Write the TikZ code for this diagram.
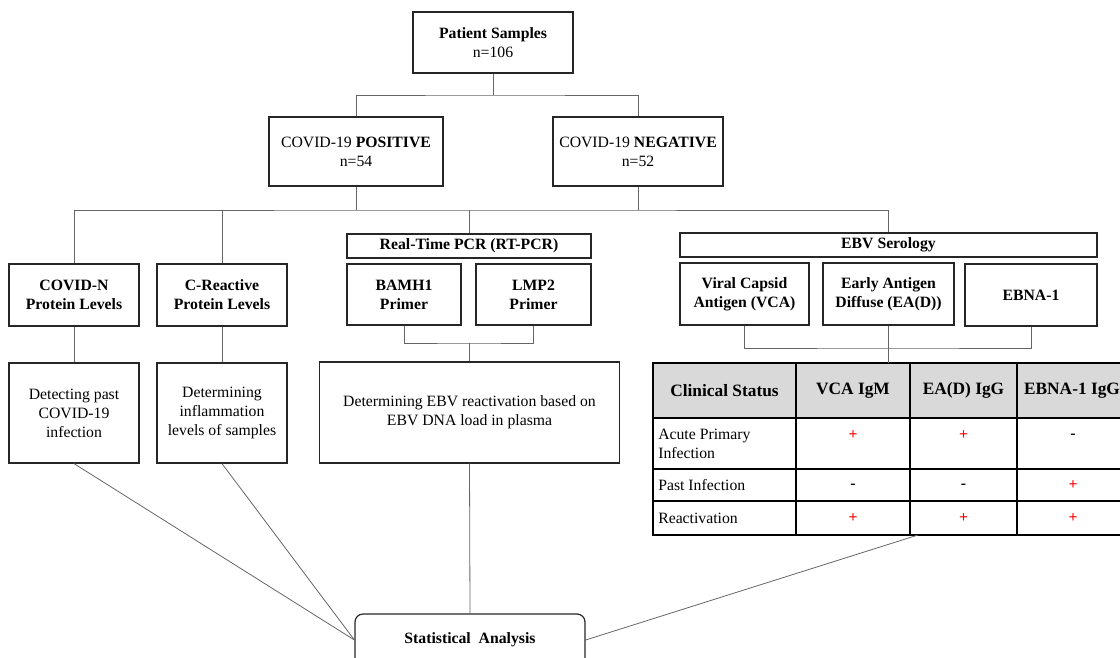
\documentclass[tikz,border=0pt]{standalone}
\usepackage{fontspec}
\setmainfont{Liberation Serif}
\usetikzlibrary{positioning}

\begin{document}
\begin{tikzpicture}[x=0.75pt,y=-0.75pt,
        box/.style={draw=black!85,line width=0.9pt,align=center,inner sep=1pt,font=\fontsize{11.8}{14.2}\selectfont\bfseries},
        txt/.style={box,font=\fontsize{11.8}{14.2}\selectfont},
        ln/.style={draw=black!60,line width=0.6pt},
        hd/.style={inner sep=0pt,font=\fontsize{13}{15}\selectfont\bfseries},
        rw/.style={inner sep=0pt,anchor=west,align=left,font=\fontsize{11.8}{14.2}\selectfont},
        sg/.style={inner sep=0pt,font=\fontsize{11.8}{14.2}\selectfont\bfseries},
        pl/.style={sg,text=red}]
                      \useasboundingbox (0,0) rectangle (1120,657);
                      \clip (0,0) rectangle (1120,657);
                      % top levels
                      \node[box,minimum width=120pt,minimum height=45.75pt] (ps) at (493,42.5) {Patient Samples\\\mdseries n=106};
                      \node[txt,minimum width=130.5pt,minimum height=51.75pt] (pos) at (356,151.5) {COVID-19 \textbf{POSITIVE}\\n=54};
                      \node[txt,minimum width=127.5pt,minimum height=51.75pt] (neg) at (638,151.5) {COVID-19 \textbf{NEGATIVE}\\n=52};

                      % tests
                      \node[box,minimum width=97.5pt,minimum height=46.5pt] (covn) at (74,295) {COVID-N\\Protein Levels};
                      \node[box,minimum width=97.5pt,minimum height=46.5pt] (crp) at (222,295) {C-Reactive\\Protein Levels};
                      \node[txt,minimum width=97.5pt,minimum height=75pt] (det) at (74,413) {Detecting past\\COVID-19\\infection};
                      \node[txt,minimum width=97.5pt,minimum height=75pt] (inf) at (222,413) {Determining\\inflammation\\levels of samples};

                      \node[box,minimum width=183pt,minimum height=18pt] (rt) at (469,246) {Real-Time PCR (RT-PCR)};
                      \node[box,minimum width=85.5pt,minimum height=45.75pt] (bam) at (404,294.5) {BAMH1\\Primer};
                      \node[box,minimum width=86.25pt,minimum height=45.75pt] (lmp) at (533.5,294.5) {LMP2\\Primer};
                      \node[txt,minimum width=225pt,minimum height=75.75pt] (dna) at (469.5,412.5) {Determining EBV reactivation based on\\EBV DNA load in plasma};

                      \node[box,minimum width=312.75pt,minimum height=18pt] (ebv) at (888.5,245) {EBV Serology};
                      \node[box,minimum width=96.75pt,minimum height=46.5pt] (vca) at (744.5,294) {Viral Capsid\\Antigen (VCA)};
                      \node[box,minimum width=98.25pt,minimum height=46.5pt] (ead) at (888.5,294) {Early Antigen\\Diffuse (EA(D))};
                      \node[box,minimum width=99pt,minimum height=46.5pt] (ebna) at (1031,295) {EBNA-1};

                      \node[box,rounded corners=6pt,minimum width=172.5pt,minimum height=39pt] (stat) at (470,640) {Statistical\hspace{0.25em} Analysis};

                      % table
                      \fill[black!15] (653,363) rectangle (1128,418);
                      \draw[line width=0.9pt] (653,363) rectangle (1128,535);
                      \foreach \y in {418,469,501} \draw[line width=0.9pt] (653,\y) -- (1128,\y);
                      \foreach \x in {796,910,1017} \draw[line width=0.9pt] (\x,363) -- (\x,535);
                      \node[hd] (h1) at (724.5,390.5) {Clinical Status};
                      \node[hd] (h2) at (853,390.5) {VCA IgM};
                      \node[hd] (h3) at (963.5,390.5) {EA(D) IgG};
                      \node[hd] (h4) at (1072,390.5) {EBNA-1 IgG};
                      \node[rw] (r1) at (658,444) {Acute Primary\\Infection};
                      \node[rw] (r2) at (658,485) {Past Infection};
                      \node[rw] (r3) at (658,518) {Reactivation};
                      \node[pl] (s11) at (853,435) {+};
                      \node[pl] (s12) at (963.5,435) {+};
                      \node[sg] (s13) at (1073,436) {-};
                      \node[sg] (s21) at (853,486) {-};
                      \node[sg] (s22) at (963.5,486) {-};
                      \node[pl] (s23) at (1073,485) {+};
                      \node[pl] (s31) at (853,518) {+};
                      \node[pl] (s32) at (963.5,518) {+};
                      \node[pl] (s33) at (1073,518) {+};
                      \coordinate (tt) at (888.5,363);
                      \coordinate (tb) at (918,535);

                      % connectors
                      \coordinate (j1) at (493,95);
                      \coordinate (j2) at (469,210);
                      \coordinate (j3) at (469.5,343);
                      \coordinate (j4) at (888.5,348);
                      \draw[ln] (ps) -- (j1);
                      \draw[ln] (pos.north) |- (j1) -| (neg.north);
                      \draw[ln] (pos.south) -- (pos.south |- j2);
                      \draw[ln] (neg.south) -- (neg.south |- j2);
                      \draw[ln] (covn.north) |- (j2) -| (ebv.north);
                      \draw[ln] (crp.north) -- (crp.north |- j2);
                      \draw[ln] (rt.north) -- (rt.north |- j2);
                      \draw[ln] (covn) -- (det);
                      \draw[ln] (crp) -- (inf);
                      \draw[ln] (bam.south) |- (j3) -| (lmp.south);
                      \draw[ln] (j3) -- (dna.north);
                      \draw[ln] (vca.south) |- (j4) -| (ebna.south);
                      \draw[ln] (ead.south) -- (tt);
                      \draw[ln] (det.south) -- (stat.west);
                      \draw[ln] (inf.south) -- (stat.west);
                      \draw[ln] (dna.south) -- (stat.north);
                      \draw[ln] (tb) -- (stat.east);
                    \end{tikzpicture}
\end{document}
